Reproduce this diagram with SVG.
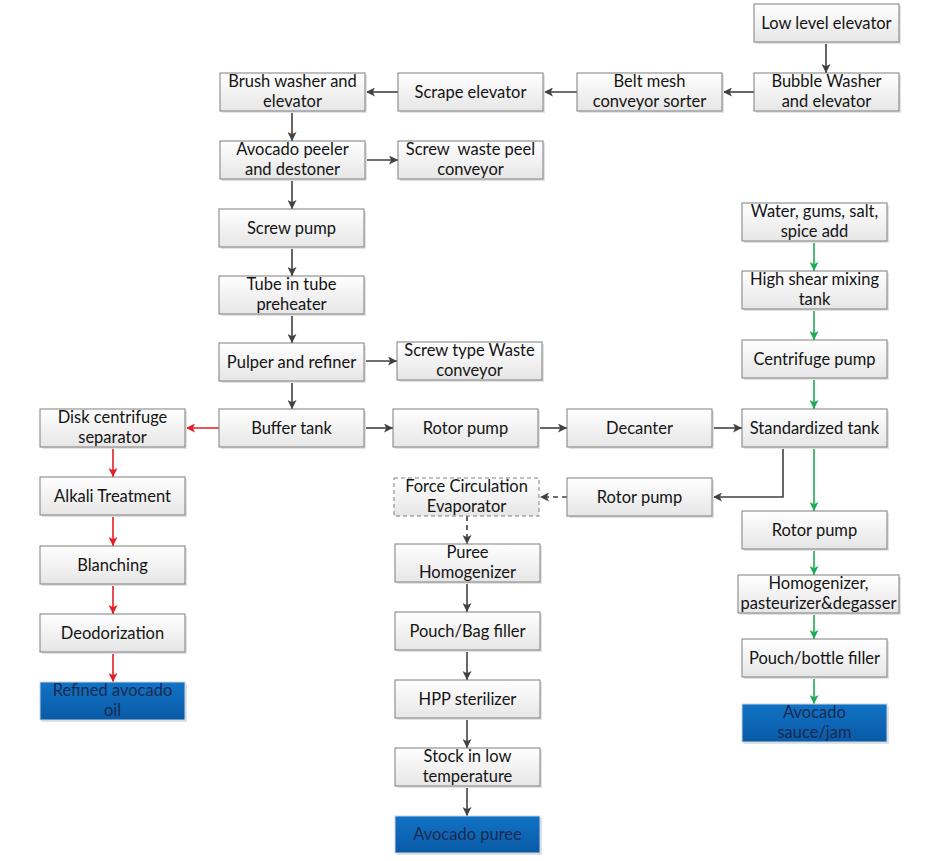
<svg xmlns="http://www.w3.org/2000/svg" width="938" height="861" viewBox="0 0 938 861">
<defs>
<linearGradient id="g" x1="0" y1="0" x2="0" y2="1"><stop offset="0" stop-color="#ffffff"/><stop offset="1" stop-color="#e6e6e6"/></linearGradient>
<linearGradient id="b" x1="0" y1="0" x2="0" y2="1"><stop offset="0" stop-color="#1173c6"/><stop offset="1" stop-color="#0a5aa6"/></linearGradient>
<marker id="ak" viewBox="0 0 10 10" refX="10" refY="5" markerWidth="9" markerHeight="9" markerUnits="userSpaceOnUse" orient="auto"><path d="M0,0 L10,5 L0,10 L2.5,5 z" fill="#404040"/></marker>
<marker id="ar" viewBox="0 0 10 10" refX="10" refY="5" markerWidth="9" markerHeight="9" markerUnits="userSpaceOnUse" orient="auto"><path d="M0,0 L10,5 L0,10 L2.5,5 z" fill="#e41e25"/></marker>
<marker id="ag" viewBox="0 0 10 10" refX="10" refY="5" markerWidth="9" markerHeight="9" markerUnits="userSpaceOnUse" orient="auto"><path d="M0,0 L10,5 L0,10 L2.5,5 z" fill="#1eaa55"/></marker>
</defs>
<style>
.n rect{fill:url(#g);stroke:#7f7f7f;stroke-width:1}
.n .sh{fill:#e2e2e2;stroke:none}
.n.bl rect{fill:url(#b);stroke:#c8d4e0}
.n.bl .sh{fill:#e2e2e2;stroke:none}
.n.ds rect{stroke-dasharray:4,3}
text{font-family:Lato,"Liberation Sans",sans-serif;font-size:16.5px;fill:#141414;text-anchor:middle}
.bl text{fill:#1b2a4e}
#connectors path{fill:none;stroke-width:1.6}
.k{stroke:#404040;marker-end:url(#ak)}
.r{stroke:#e41e25;marker-end:url(#ar)}
.gr{stroke:#1eaa55;marker-end:url(#ag)}
.d{stroke-dasharray:5,4}
</style>
<rect width="938" height="861" fill="#ffffff"/>
<g id="connectors">
<path class="k" d="M826,42 V73"/>
<path class="k" d="M754,92 H723"/>
<path class="k" d="M577,92 H544"/>
<path class="k" d="M398,92 H366"/>
<path class="k" d="M292,111 V141"/>
<path class="k" d="M365,160 H398"/>
<path class="k" d="M292,179 V209"/>
<path class="k" d="M292,247 V276"/>
<path class="k" d="M292,314 V343"/>
<path class="k" d="M364,361 H397"/>
<path class="k" d="M292,381 V409"/>
<path class="k" d="M364,428 H393"/>
<path class="k" d="M538,428 H567"/>
<path class="k" d="M712,428 H742"/>
<path class="r" d="M219,428 H186"/>
<path class="r" d="M113,447 V477"/>
<path class="r" d="M113,515 V546"/>
<path class="r" d="M113,584 V614"/>
<path class="r" d="M113,652 V682"/>
<path class="k" d="M783,447 V497 H713"/>
<path class="k d" d="M567,497 H540"/>
<path class="k d" d="M467,516 V544"/>
<path class="k" d="M467,582 V612"/>
<path class="k" d="M467,650 V680"/>
<path class="k" d="M467,718 V748"/>
<path class="k" d="M467,786 V816"/>
<path class="gr" d="M814,241 V271"/>
<path class="gr" d="M814,309 V340"/>
<path class="gr" d="M814,378 V409"/>
<path class="gr" d="M814,447 V511"/>
<path class="gr" d="M814,549 V575"/>
<path class="gr" d="M814,613 V639"/>
<path class="gr" d="M814,677 V704"/>
</g>
<g id="n1" class="n"><rect class="sh" x="756" y="6" width="145" height="38"/><rect x="754" y="4" width="145" height="38"/><text x="826.5" y="28.5">Low level elevator</text></g>
<g id="n2" class="n"><rect class="sh" x="756" y="75" width="145" height="38"/><rect x="754" y="73" width="145" height="38"/><text x="826.5" y="87">Bubble Washer</text><text x="826.5" y="107">and elevator</text></g>
<g id="n3" class="n"><rect class="sh" x="579" y="75" width="145" height="38"/><rect x="577" y="73" width="145" height="38"/><text x="649.5" y="87">Belt mesh</text><text x="649.5" y="107">conveyor sorter</text></g>
<g id="n4" class="n"><rect class="sh" x="400" y="75" width="145" height="38"/><rect x="398" y="73" width="145" height="38"/><text x="470.5" y="97.5">Scrape elevator</text></g>
<g id="n5" class="n"><rect class="sh" x="222" y="75" width="145" height="38"/><rect x="220" y="73" width="145" height="38"/><text x="292.5" y="87">Brush washer and</text><text x="292.5" y="107">elevator</text></g>
<g id="n6" class="n"><rect class="sh" x="222" y="143" width="145" height="38"/><rect x="220" y="141" width="145" height="38"/><text x="292.5" y="155">Avocado peeler</text><text x="292.5" y="175">and destoner</text></g>
<g id="n7" class="n"><rect class="sh" x="400" y="143" width="145" height="38"/><rect x="398" y="141" width="145" height="38"/><text x="470.5" y="155">Screw&#160; waste peel</text><text x="470.5" y="175">conveyor</text></g>
<g id="n8" class="n"><rect class="sh" x="221" y="211" width="145" height="38"/><rect x="219" y="209" width="145" height="38"/><text x="291.5" y="233.5">Screw pump</text></g>
<g id="n9" class="n"><rect class="sh" x="221" y="278" width="145" height="38"/><rect x="219" y="276" width="145" height="38"/><text x="291.5" y="290">Tube in tube</text><text x="291.5" y="310">preheater</text></g>
<g id="n10" class="n"><rect class="sh" x="221" y="345" width="145" height="38"/><rect x="219" y="343" width="145" height="38"/><text x="291.5" y="367.5">Pulper and refiner</text></g>
<g id="n11" class="n"><rect class="sh" x="399" y="344" width="145" height="38"/><rect x="397" y="342" width="145" height="38"/><text x="469.5" y="356">Screw type Waste</text><text x="469.5" y="376">conveyor</text></g>
<g id="n12" class="n"><rect class="sh" x="221" y="411" width="145" height="38"/><rect x="219" y="409" width="145" height="38"/><text x="291.5" y="433.5">Buffer tank</text></g>
<g id="n13" class="n"><rect class="sh" x="395" y="411" width="145" height="38"/><rect x="393" y="409" width="145" height="38"/><text x="465.5" y="433.5">Rotor pump</text></g>
<g id="n14" class="n"><rect class="sh" x="569" y="411" width="145" height="38"/><rect x="567" y="409" width="145" height="38"/><text x="639.5" y="433.5">Decanter</text></g>
<g id="n15" class="n"><rect class="sh" x="744" y="411" width="145" height="38"/><rect x="742" y="409" width="145" height="38"/><text x="814.5" y="433.5">Standardized tank</text></g>
<g id="n16" class="n"><rect class="sh" x="42" y="411" width="145" height="38"/><rect x="40" y="409" width="145" height="38"/><text x="112.5" y="423">Disk centrifuge</text><text x="112.5" y="443">separator</text></g>
<g id="n17" class="n"><rect class="sh" x="42" y="479" width="145" height="38"/><rect x="40" y="477" width="145" height="38"/><text x="112.5" y="501.5">Alkali Treatment</text></g>
<g id="n18" class="n"><rect class="sh" x="42" y="548" width="145" height="38"/><rect x="40" y="546" width="145" height="38"/><text x="112.5" y="570.5">Blanching</text></g>
<g id="n19" class="n"><rect class="sh" x="42" y="616" width="145" height="38"/><rect x="40" y="614" width="145" height="38"/><text x="112.5" y="638.5">Deodorization</text></g>
<g id="n20" class="n bl"><rect class="sh" x="42" y="684" width="145" height="38"/><rect x="40" y="682" width="145" height="38"/><text x="112.5" y="696">Refined avocado</text><text x="112.5" y="716">oil</text></g>
<g id="n21" class="n"><rect class="sh" x="569" y="480" width="145" height="38"/><rect x="567" y="478" width="145" height="38"/><text x="639.5" y="502.5">Rotor pump</text></g>
<g id="n22" class="n ds"><rect x="394" y="478" width="145" height="38"/><text x="466.5" y="492">Force Circulation</text><text x="466.5" y="512">Evaporator</text></g>
<g id="n23" class="n"><rect class="sh" x="397" y="546" width="145" height="38"/><rect x="395" y="544" width="145" height="38"/><text x="467.5" y="558">Puree</text><text x="467.5" y="578">Homogenizer</text></g>
<g id="n24" class="n"><rect class="sh" x="397" y="614" width="145" height="38"/><rect x="395" y="612" width="145" height="38"/><text x="467.5" y="636.5">Pouch/Bag filler</text></g>
<g id="n25" class="n"><rect class="sh" x="397" y="682" width="145" height="38"/><rect x="395" y="680" width="145" height="38"/><text x="467.5" y="704.5">HPP sterilizer</text></g>
<g id="n26" class="n"><rect class="sh" x="397" y="750" width="145" height="38"/><rect x="395" y="748" width="145" height="38"/><text x="467.5" y="762">Stock in low</text><text x="467.5" y="782">temperature</text></g>
<g id="n27" class="n bl"><rect class="sh" x="397" y="818" width="145" height="37"/><rect x="395" y="816" width="145" height="37"/><text x="467.5" y="840">Avocado puree</text></g>
<g id="n28" class="n"><rect class="sh" x="744" y="205" width="145" height="38"/><rect x="742" y="203" width="145" height="38"/><text x="814.5" y="217">Water, gums, salt,</text><text x="814.5" y="237">spice add</text></g>
<g id="n29" class="n"><rect class="sh" x="744" y="273" width="145" height="38"/><rect x="742" y="271" width="145" height="38"/><text x="814.5" y="285">High shear mixing</text><text x="814.5" y="305">tank</text></g>
<g id="n30" class="n"><rect class="sh" x="744" y="342" width="145" height="38"/><rect x="742" y="340" width="145" height="38"/><text x="814.5" y="364.5">Centrifuge pump</text></g>
<g id="n31" class="n"><rect class="sh" x="744" y="513" width="145" height="38"/><rect x="742" y="511" width="145" height="38"/><text x="814.5" y="535.5">Rotor pump</text></g>
<g id="n32" class="n"><rect class="sh" x="740" y="577" width="161" height="38"/><rect x="738" y="575" width="161" height="38"/><text x="818.5" y="589">Homogenizer,</text><text x="818.5" y="609">pasteurizer&amp;degasser</text></g>
<g id="n33" class="n"><rect class="sh" x="744" y="641" width="145" height="38"/><rect x="742" y="639" width="145" height="38"/><text x="814.5" y="663.5">Pouch/bottle filler</text></g>
<g id="n34" class="n bl"><rect class="sh" x="744" y="706" width="145" height="38"/><rect x="742" y="704" width="145" height="38"/><text x="814.5" y="718">Avocado</text><text x="814.5" y="738">sauce/jam</text></g>
</svg>
